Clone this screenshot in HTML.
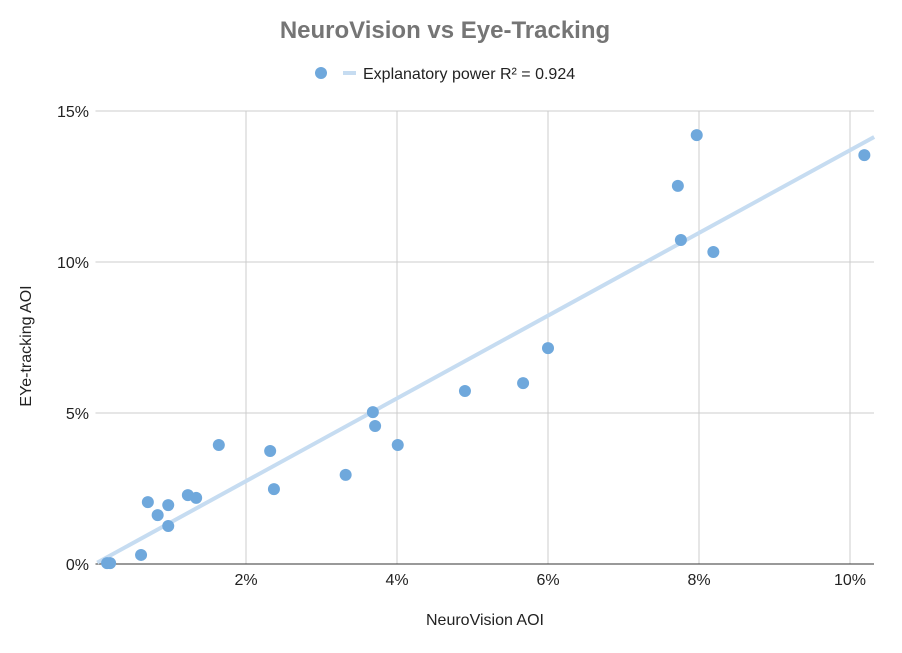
<!DOCTYPE html>
<html><head><meta charset="utf-8">
<style>
html,body{margin:0;padding:0;background:#fff;}
svg text{font-family:"Liberation Sans",Arial,sans-serif;}
</style></head>
<body>
<svg id="chart" width="902" height="648" viewBox="0 0 902 648">
<text x="445" y="38" text-anchor="middle" font-size="24" font-weight="bold" fill="#757575">NeuroVision vs Eye-Tracking</text>
<g>
<circle cx="321" cy="73" r="6" fill="#6fa8dc"/>
<rect x="343" y="71" width="13" height="4" fill="#c6dcf1"/>
<text x="363" y="79" font-size="16" fill="#222">Explanatory power R² = 0.924</text>
</g>
<g id="grid"></g>
<g id="axes"></g>
<g id="trend"></g>
<g id="points"></g>
<text transform="translate(31,346) rotate(-90)" text-anchor="middle" font-size="16" fill="#222">EYe-tracking AOI</text>
<text x="485" y="625" text-anchor="middle" font-size="16" fill="#222">NeuroVision AOI</text>
</svg>
<script>
const xValues=[0.16,0.2,0.61,0.70,0.83,0.97,0.97,1.23,1.34,1.64,2.32,2.37,3.32,3.68,3.71,4.01,4.90,5.67,6.0,7.72,7.97,7.76,8.19,10.19];
const yValues=[0.03,0.03,0.3,2.05,1.62,1.95,1.26,2.28,2.19,3.94,3.74,2.48,2.95,5.03,4.57,3.94,5.73,5.99,7.15,12.52,14.2,10.73,10.33,13.54];
const xTicks=[2,4,6,8,10];
const yTicks=[0,5,10,15];
const xTickLabels=["2%","4%","6%","8%","10%"];
const yTickLabels=["0%","5%","10%","15%"];
const xMin=0,xMax=10.32,yMin=0,yMax=15;
const L=95.5,R=874,T=111,B=564;
const NS="http://www.w3.org/2000/svg";
function xs(v){return 95+(v-xMin)*75.5;}
function ys(v){return B-(v-yMin)/(yMax-yMin)*(B-T);}
function mk(tag,attrs,parent){const e=document.createElementNS(NS,tag);for(const k in attrs)e.setAttribute(k,attrs[k]);document.getElementById(parent).appendChild(e);return e;}
xTicks.forEach((t,i)=>{
 const l=mk('line',{x1:xs(t),x2:xs(t),y1:T,y2:B,stroke:'#cccccc','stroke-width':1},'grid');
 
 
 const tx=mk('text',{x:xs(t),y:B+21,'text-anchor':'middle','font-size':16,fill:'#222'},'axes');
 tx.textContent=xTickLabels[i];
 
 
});
yTicks.forEach((t,i)=>{
 if(t!==0){const l=mk('line',{x1:L,x2:R,y1:ys(t),y2:ys(t),stroke:'#cccccc','stroke-width':1},'grid');
 
 }
 const tx=mk('text',{x:89,y:ys(t)+6,'text-anchor':'end','font-size':16,fill:'#222'},'axes');
 tx.textContent=yTickLabels[i];
 
 
});
const ax=mk('line',{x1:L,x2:R,y1:B,y2:B,stroke:'#333','stroke-width':1},'axes');


// least squares trendline
const n=xValues.length;let sx=0,sy=0,sxx=0,sxy=0;
for(let i=0;i<n;i++){sx+=xValues[i];sy+=yValues[i];sxx+=xValues[i]*xValues[i];sxy+=xValues[i]*yValues[i];}
const m=(n*sxy-sx*sy)/(n*sxx-sx*sx),b=(sy-m*sx)/n;
const x0=0.03,x1=xMax;
const tl=mk('line',{x1:xs(x0),y1:ys(m*x0+b),x2:xs(x1),y2:ys(m*x1+b),stroke:'#c6dcf1','stroke-width':4},'trend');


xValues.forEach((x,i)=>{
 const c=mk('circle',{cx:xs(x),cy:ys(yValues[i]),r:6,fill:'#6fa8dc'},'points');
 
 
});
</script>
</body></html>
